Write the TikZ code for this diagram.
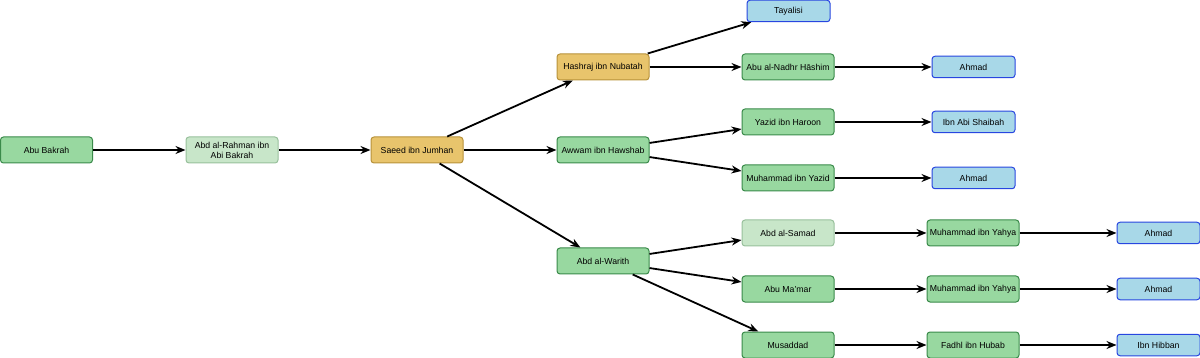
\documentclass[tikz,border=0pt]{standalone}
\usepackage{fontspec}
\setmainfont{Liberation Sans}
\usetikzlibrary{arrows.meta}
\definecolor{gfill}{RGB}{152,216,160}
\definecolor{gdraw}{RGB}{58,138,74}
\definecolor{lgfill}{RGB}{200,230,201}
\definecolor{lgdraw}{RGB}{152,192,156}
\definecolor{ofill}{RGB}{232,196,108}
\definecolor{odraw}{RGB}{184,146,58}
\definecolor{bfill}{RGB}{168,216,232}
\definecolor{bdraw}{RGB}{40,70,224}
\begin{document}
\begin{tikzpicture}[x=1pt,y=-1pt,
  box/.style={rounded corners=3pt,line width=1pt,minimum width=92pt,minimum height=26pt,inner sep=1pt,align=center,font=\fontsize{8.7}{10}\selectfont},
  gbox/.style={box,fill=gfill,draw=gdraw},
  lgbox/.style={box,fill=lgfill,draw=lgdraw},
  obox/.style={box,fill=ofill,draw=odraw},
  bbox/.style={box,fill=bfill,draw=bdraw,minimum width=83pt,minimum height=21.5pt},
  link/.style={line width=1.8pt,-{Stealth[length=10pt,width=8pt]}}]
\useasboundingbox (0,0) rectangle (1200,358);
\node[gbox] (abubakrah) at (46.5,150) {Abu Bakrah};
\node[lgbox] (abdrahman) at (232,150) {Abd al-Rahman ibn\\Abi Bakrah};
\node[obox] (saeed) at (417,150) {Saeed ibn Jumhan};
\node[obox] (hashraj) at (603,67) {Hashraj ibn Nubatah};
\node[bbox] (tayalisi) at (788.5,11) {Tayalisi};
\node[gbox] (nadhr) at (788,67) {Abu al-Nadhr Hāshim};
\node[bbox] (ahmad1) at (973.5,67) {Ahmad};
\node[gbox] (awwam) at (603,150) {Awwam ibn Hawshab};
\node[gbox] (yazid) at (788,122) {Yazid ibn Haroon};
\node[bbox] (shaibah) at (973.5,122) {Ibn Abi Shaibah};
\node[gbox] (myazid) at (788,178) {Muhammad ibn Yazid};
\node[bbox] (ahmad2) at (973.5,178) {Ahmad};
\node[gbox] (warith) at (603,261) {Abd al-Warith};
\node[lgbox] (samad) at (788,233) {Abd al-Samad};
\node[gbox] (myahya1) at (973,233) {Muhammad ibn Yahya};
\node[bbox] (ahmad3) at (1158.5,233) {Ahmad};
\node[gbox] (mamar) at (788,289) {Abu Ma'mar};
\node[gbox] (myahya2) at (973,289) {Muhammad ibn Yahya};
\node[bbox] (ahmad4) at (1158.5,289) {Ahmad};
\node[gbox] (musaddad) at (788,345) {Musaddad};
\node[gbox] (fadhl) at (973,345) {Fadhl ibn Hubab};
\node[bbox] (hibban) at (1158.5,345) {Ibn Hibban};
\draw[link] (abubakrah) -- (abdrahman);
\draw[link] (abdrahman) -- (saeed);
\draw[link] (saeed) -- (hashraj);
\draw[link] (saeed) -- (awwam);
\draw[link] (saeed) -- (warith);
\draw[link] (hashraj) -- (tayalisi);
\draw[link] (hashraj) -- (nadhr);
\draw[link] (nadhr) -- (ahmad1);
\draw[link] (awwam) -- (yazid);
\draw[link] (awwam) -- (myazid);
\draw[link] (yazid) -- (shaibah);
\draw[link] (myazid) -- (ahmad2);
\draw[link] (warith) -- (samad);
\draw[link] (warith) -- (mamar);
\draw[link] (warith) -- (musaddad);
\draw[link] (samad) -- (myahya1);
\draw[link] (myahya1) -- (ahmad3);
\draw[link] (mamar) -- (myahya2);
\draw[link] (myahya2) -- (ahmad4);
\draw[link] (musaddad) -- (fadhl);
\draw[link] (fadhl) -- (hibban);
\end{tikzpicture}
\end{document}
